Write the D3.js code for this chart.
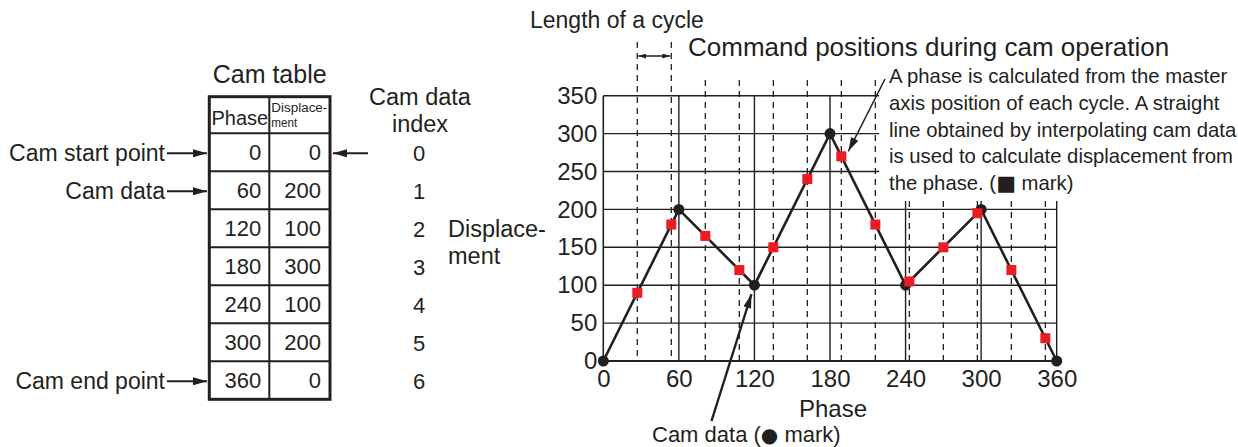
<!DOCTYPE html>
<html>
<head>
<meta charset="utf-8">
<script src="https://cdn.jsdelivr.net/npm/d3@7"></script>
<style>
  body { margin: 0; background: #fff; }
  svg { display: block; font-family: "Liberation Sans", Arial, sans-serif; }
</style>
</head>
<body>
<div id="chart"></div>
<script>
const w = 1238;
const h = 447;
const ink = "#231f20";

// cam table (black dots)
const camIndex = [0, 1, 2, 3, 4, 5, 6];
const camPhase = [0, 60, 120, 180, 240, 300, 360];
const camDisp = [0, 200, 100, 300, 100, 200, 0];
const rowLabels = ["Cam start point", "Cam data", "", "", "", "", "Cam end point"];

// command positions (red squares)
const cmdPhase = [27, 54, 81, 108, 135, 162, 189, 216, 243, 270, 297, 324, 351];
const cmdDisp = [90, 180, 165, 120, 150, 240, 270, 180, 105, 150, 195, 120, 30];

const xTicks = [0, 60, 120, 180, 240, 300, 360];
const yTicks = [0, 50, 100, 150, 200, 250, 300, 350];

const svg = d3
  .select("#chart")
  .append("svg")
  .attr("width", w)
  .attr("height", h);

const x = d3.scaleLinear().domain([0, 360]).range([603.3, 1056.7]);
const y = d3.scaleLinear().domain([0, 350]).range([361, 95.7]);

// arrow heads
const defs = svg.append("defs");
const addMarker = function (id, len, wid) {
  defs
    .append("marker")
    .attr("id", id)
    .attr("markerUnits", "userSpaceOnUse")
    .attr("viewBox", `0 0 ${len} ${wid}`)
    .attr("refX", len)
    .attr("refY", wid / 2)
    .attr("markerWidth", len)
    .attr("markerHeight", wid)
    .attr("orient", "auto-start-reverse")
    .append("path")
    .attr("d", `M0,0 L${len},${wid / 2} L0,${wid} z`)
    .attr("fill", ink);
};
addMarker("arr", 14, 8);
addMarker("arrSmall", 8, 5);

// ---------- cam table ----------
const tLeft = 209.3, tMid = 269.3, tRight = 330, tTop = 96.7, tHead = 133.3;
const row = d3.scaleBand().domain(camIndex).range([tHead, 399.3]);
const tbl = svg.append("g");

tbl.append("text")
  .attr("x", (tLeft + tRight) / 2)
  .attr("y", 83)
  .attr("text-anchor", "middle")
  .attr("font-size", 25)
  .attr("fill", ink)
  .text("Cam table");

// row lines
tbl.selectAll(".rowline")
  .data(camIndex)
  .enter()
  .append("line")
  .attr("x1", tLeft).attr("x2", tRight)
  .attr("y1", (d) => row(d)).attr("y2", (d) => row(d))
  .attr("stroke", ink).attr("stroke-width", 2);
tbl.append("line")
  .attr("x1", tMid).attr("x2", tMid)
  .attr("y1", tTop).attr("y2", row(6) + row.bandwidth())
  .attr("stroke", ink).attr("stroke-width", 2);
tbl.append("rect")
  .attr("x", tLeft).attr("y", tTop)
  .attr("width", tRight - tLeft)
  .attr("height", row(6) + row.bandwidth() - tTop)
  .attr("fill", "none").attr("stroke", ink).attr("stroke-width", 3);

tbl.append("text")
  .attr("x", (tLeft + tMid) / 2 + 0.5).attr("y", 125)
  .attr("text-anchor", "middle").attr("font-size", 20)
  .attr("fill", ink)
  .text("Phase");
tbl.append("text")
  .attr("x", tMid + 2).attr("y", 112)
  .attr("font-size", 12.5).attr("fill", ink)
  .attr("textLength", 56).attr("lengthAdjust", "spacingAndGlyphs")
  .text("Displace-");
tbl.append("text")
  .attr("x", tMid + 2).attr("y", 127)
  .attr("font-size", 12.5).attr("fill", ink)
  .attr("textLength", 26).attr("lengthAdjust", "spacingAndGlyphs")
  .text("ment");

tbl.selectAll(".ph")
  .data(camIndex)
  .enter()
  .append("text")
  .attr("x", tMid - 8)
  .attr("y", (d) => row(d) + row.bandwidth() / 2)
  .attr("dy", "0.36em")
  .attr("text-anchor", "end")
  .attr("font-size", 22)
  .attr("fill", ink)
  .text((d) => camPhase[d]);
tbl.selectAll(".dp")
  .data(camIndex)
  .enter()
  .append("text")
  .attr("x", tRight - 9)
  .attr("y", (d) => row(d) + row.bandwidth() / 2)
  .attr("dy", "0.36em")
  .attr("text-anchor", "end")
  .attr("font-size", 22)
  .attr("fill", ink)
  .text((d) => camDisp[d]);

// left labels with arrows
camIndex.filter((d) => rowLabels[d] !== "").forEach(function (d) {
  const cy = row(d) + row.bandwidth() / 2 + 1;
  tbl.append("text")
    .attr("x", 165).attr("y", cy)
    .attr("dy", "0.33em")
    .attr("text-anchor", "end")
    .attr("font-size", 23)
    .attr("fill", ink)
    .text(rowLabels[d]);
  tbl.append("line")
    .attr("x1", 167).attr("x2", 207)
    .attr("y1", cy).attr("y2", cy)
    .attr("stroke", ink).attr("stroke-width", 2)
    .attr("marker-end", "url(#arr)");
});
// arrow from the right to start row
tbl.append("line")
  .attr("x1", 368).attr("x2", 333)
  .attr("y1", row(0) + row.bandwidth() / 2 + 1)
  .attr("y2", row(0) + row.bandwidth() / 2 + 1)
  .attr("stroke", ink).attr("stroke-width", 2)
  .attr("marker-end", "url(#arr)");

// index column
tbl.append("text")
  .attr("x", 420).attr("y", 105)
  .attr("text-anchor", "middle").attr("font-size", 23.5).attr("fill", ink)
  .text("Cam data");
tbl.append("text")
  .attr("x", 420).attr("y", 132)
  .attr("text-anchor", "middle").attr("font-size", 23.5).attr("fill", ink)
  .text("index");
tbl.selectAll(".idx")
  .data(camIndex)
  .enter()
  .append("text")
  .attr("x", 419)
  .attr("y", (d) => row(d) + row.bandwidth() / 2 + 1)
  .attr("dy", "0.36em")
  .attr("text-anchor", "middle")
  .attr("font-size", 22)
  .attr("fill", ink)
  .text((d) => d);

// ---------- chart ----------
const g = svg.append("g");
const clearPhase = 219; // right edge of upper grid lines (text sits there)
const clearDisp = 211; // top of right-hand vertical lines

g.selectAll(".hgrid")
  .data(yTicks.filter((v) => v > 0))
  .enter()
  .append("line")
  .attr("x1", x(0))
  .attr("x2", (v) => (v >= 250 ? x(clearPhase) : x(360)))
  .attr("y1", (v) => y(v)).attr("y2", (v) => y(v))
  .attr("stroke", ink).attr("stroke-width", 1.4);

g.selectAll(".vgrid")
  .data(xTicks.filter((v) => v > 0))
  .enter()
  .append("line")
  .attr("x1", (v) => x(v)).attr("x2", (v) => x(v))
  .attr("y1", (v) => (v >= 240 ? y(clearDisp) : y(350)))
  .attr("y2", y(0))
  .attr("stroke", ink).attr("stroke-width", 1.4);

g.selectAll(".dash")
  .data(cmdPhase)
  .enter()
  .append("line")
  .attr("x1", (v) => x(v)).attr("x2", (v) => x(v))
  .attr("y1", (v) => (v < 60 ? 42 : v >= 240 ? y(clearDisp) : 80))
  .attr("y2", y(0))
  .attr("stroke", ink).attr("stroke-width", 1.3)
  .attr("stroke-dasharray", "6,5");

g.append("line")
  .attr("x1", x(0)).attr("x2", x(0))
  .attr("y1", y(350)).attr("y2", y(0))
  .attr("stroke", ink).attr("stroke-width", 1.6);
g.append("line")
  .attr("x1", x(0)).attr("x2", x(360))
  .attr("y1", y(0)).attr("y2", y(0))
  .attr("stroke", ink).attr("stroke-width", 2.2);

// axes labels via d3 axes
const yAxis = g.append("g")
  .attr("transform", `translate(${x(0)},0)`)
  .call(d3.axisLeft(y).tickValues(yTicks).tickSize(0).tickPadding(6));
const xAxis = g.append("g")
  .attr("transform", `translate(0,${y(0)})`)
  .call(d3.axisBottom(x).tickValues(xTicks).tickSize(0).tickPadding(9));
[yAxis, xAxis].forEach(function (a) {
  a.attr("font-family", null).attr("font-size", 24);
  a.select(".domain").remove();
  a.selectAll("text").attr("fill", ink);
});

g.append("text")
  .attr("x", 833).attr("y", 416.5)
  .attr("text-anchor", "middle").attr("font-size", 24).attr("fill", ink)
  .text("Phase");
g.append("text")
  .attr("x", 448).attr("y", 237)
  .attr("font-size", 23.5).attr("fill", ink)
  .text("Displace-");
g.append("text")
  .attr("x", 448).attr("y", 264)
  .attr("font-size", 23.5).attr("fill", ink)
  .text("ment");

// cam curve
const camPts = camPhase.map((p, i) => [p, camDisp[i]]);
g.append("path")
  .datum(camPts)
  .attr("d", d3.line().x((d) => x(d[0])).y((d) => y(d[1])))
  .attr("fill", "none")
  .attr("stroke", ink)
  .attr("stroke-width", 2.6);

g.selectAll(".cam")
  .data(camPts)
  .enter()
  .append("circle")
  .attr("cx", (d) => x(d[0]))
  .attr("cy", (d) => y(d[1]))
  .attr("r", 5.5)
  .attr("fill", ink);

g.selectAll(".cmd")
  .data(cmdPhase)
  .enter()
  .append("rect")
  .attr("x", (d) => x(d) - 5)
  .attr("y", (d, i) => y(cmdDisp[i]) - 5)
  .attr("width", 10)
  .attr("height", 10)
  .attr("fill", "#ed1c24");

// ---------- annotations ----------
svg.append("text")
  .attr("x", 530).attr("y", 28)
  .attr("font-size", 23).attr("fill", ink)
  .text("Length of a cycle");
svg.append("line")
  .attr("x1", x(cmdPhase[0]) + 1).attr("x2", x(cmdPhase[1]) - 1)
  .attr("y1", 56).attr("y2", 56)
  .attr("stroke", ink).attr("stroke-width", 1.3)
  .attr("marker-start", "url(#arrSmall)")
  .attr("marker-end", "url(#arrSmall)");

svg.append("text")
  .attr("x", 688).attr("y", 56)
  .attr("font-size", 26).attr("fill", ink)
  .text("Command positions during cam operation");

const noteLines = [
  "A phase is calculated from the master",
  "axis position of each cycle. A straight",
  "line obtained by interpolating cam data",
  "is used to calculate displacement from",
];
svg.selectAll(".note")
  .data(noteLines)
  .enter()
  .append("text")
  .attr("x", 889)
  .attr("y", (d, i) => 83 + i * 26.8)
  .attr("font-size", 20.3)
  .attr("fill", ink)
  .text((d) => d);
const lastNote = svg.append("text")
  .attr("x", 889)
  .attr("y", 83 + 4 * 26.8)
  .attr("font-size", 20.3)
  .attr("fill", ink);
lastNote.append("tspan").text("the phase. (");
lastNote.append("tspan")
  .attr("font-family", "DejaVu Sans")
  .attr("font-size", 21)
  .text("\u25A0");
lastNote.append("tspan").text(" mark)");

svg.append("line")
  .attr("x1", 885).attr("y1", 79)
  .attr("x2", x(cmdPhase[6]) + 7).attr("y2", y(cmdDisp[6]) - 5)
  .attr("stroke", ink).attr("stroke-width", 1.5)
  .attr("marker-end", "url(#arr)");

svg.append("line")
  .attr("x1", 711.5).attr("y1", 421)
  .attr("x2", x(camPhase[2]) - 3).attr("y2", y(camDisp[2]) + 9)
  .attr("stroke", ink).attr("stroke-width", 2.4)
  .attr("marker-end", "url(#arr)");
const camNote = svg.append("text")
  .attr("x", 652).attr("y", 442)
  .attr("font-size", 22).attr("fill", ink);
camNote.append("tspan").text("Cam data (");
camNote.append("tspan")
  .attr("font-family", "DejaVu Sans")
  .attr("font-size", 20)
  .text("\u25CF");
camNote.append("tspan").text(" mark)");
</script>
</body>
</html>
